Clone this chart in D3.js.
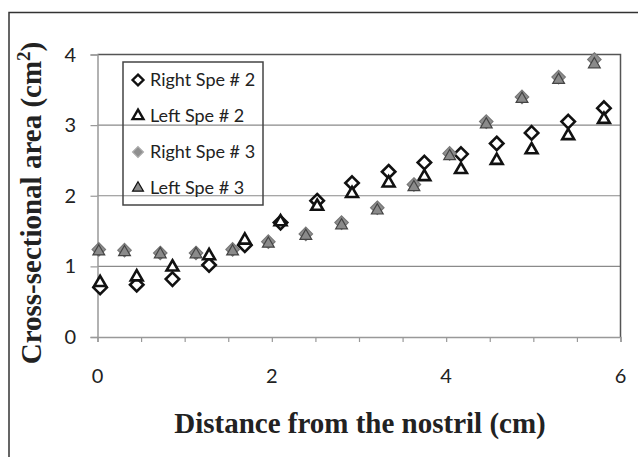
<!DOCTYPE html>
<html>
<head>
<meta charset="utf-8">
<script src="https://cdn.jsdelivr.net/npm/d3@7"></script>
<style>
  body { margin: 0; background: #fff; }
  svg { display: block; }
</style>
</head>
<body>
<script>
// values
const xRight2 = [0.03, 0.45, 0.86, 1.28, 1.69, 2.10, 2.52, 2.92, 3.34, 3.75, 4.17, 4.58, 4.98, 5.40, 5.81];
const yRight2 = [0.70, 0.74, 0.82, 1.02, 1.30, 1.62, 1.93, 2.18, 2.34, 2.47, 2.59, 2.74, 2.89, 3.05, 3.24];
const yLeft2 = [0.77, 0.85, 0.99, 1.15, 1.37, 1.63, 1.85, 2.03, 2.18, 2.27, 2.37, 2.50, 2.65, 2.85, 3.08];

const xRight3 = [0.015, 0.31, 0.72, 1.13, 1.55, 1.96, 2.39, 2.80, 3.21, 3.63, 4.04, 4.46, 4.87, 5.29, 5.70];
const yRight3 = [1.24, 1.23, 1.19, 1.19, 1.24, 1.35, 1.46, 1.62, 1.83, 2.16, 2.60, 3.05, 3.40, 3.68, 3.93];
const yLeft3 = [1.21, 1.20, 1.17, 1.17, 1.21, 1.32, 1.43, 1.58, 1.79, 2.12, 2.56, 3.01, 3.37, 3.64, 3.86];

const xTicks = [0, 2, 4, 6];
const yTicks = [0, 1, 2, 3, 4];
const seriesNames = ['Right Spe # 2', 'Left Spe # 2', 'Right Spe # 3', 'Left Spe # 3'];

const W = 638, H = 457;
const plot = { left: 97.5, right: 620.5, top: 54.5, bottom: 337 };

const svg = d3.select('body').append('svg')
  .attr('width', W)
  .attr('height', H);

// outer frame (only left and top edges are visible)
svg.append('path')
  .attr('d', `M9,${H} V12.5 H${W}`)
  .attr('fill', 'none')
  .attr('stroke', '#333')
  .attr('stroke-width', 1.5);

const x = d3.scaleLinear().domain([0, 6]).range([plot.left, plot.right]);
const y = d3.scaleLinear().domain([0, 4]).range([plot.bottom, plot.top]);

// gridlines
svg.append('g')
  .selectAll('line')
  .data([1, 2, 3])
  .join('line')
  .attr('x1', plot.left)
  .attr('x2', plot.right)
  .attr('y1', (d) => y(d))
  .attr('y2', (d) => y(d))
  .attr('stroke', '#8a8a8a')
  .attr('stroke-width', 1.2);

// plot border top + right
svg.append('path')
  .attr('d', `M${plot.left},${y(4)} H${plot.right} V${plot.bottom}`)
  .attr('fill', 'none')
  .attr('stroke', '#555')
  .attr('stroke-width', 1.5);

// x axis
const xAxis = svg.append('g')
  .attr('transform', `translate(0, ${plot.bottom})`)
  .call(d3.axisBottom(x).tickValues(d3.range(0, 6.01, 0.5)).tickSize(5).tickFormat(''));
xAxis.select('.domain').attr('stroke', '#999').attr('stroke-width', 1.5);
xAxis.selectAll('.tick line').attr('stroke', '#999').attr('stroke-width', 1.2);

svg.append('g')
  .selectAll('text')
  .data(xTicks)
  .join('text')
  .attr('x', (d) => x(d))
  .attr('y', 383)
  .attr('text-anchor', 'middle')
  .style('font-family', 'Lato, sans-serif')
  .style('font-size', '20px')
  .attr('fill', '#222')
  .text((d) => d);

// y axis
const yAxis = svg.append('g')
  .attr('transform', `translate(${plot.left}, 0)`)
  .call(d3.axisLeft(y).tickValues(yTicks).tickSize(7).tickFormat(''));
yAxis.select('.domain').attr('stroke', '#999').attr('stroke-width', 1.5);
yAxis.selectAll('.tick line').attr('stroke', '#999').attr('stroke-width', 1.2);

svg.append('g')
  .selectAll('text')
  .data(yTicks)
  .join('text')
  .attr('x', 76)
  .attr('y', (d) => y(d) + 7)
  .attr('text-anchor', 'end')
  .style('font-family', 'Lato, sans-serif')
  .style('font-size', '20px')
  .attr('fill', '#222')
  .text((d) => d);

// axis titles
svg.append('text')
  .attr('x', 360)
  .attr('y', 433)
  .attr('text-anchor', 'middle')
  .style('font-family', '"Liberation Serif", serif')
  .style('font-weight', 'bold')
  .style('font-size', '29px')
  .attr('fill', '#222')
  .text('Distance from the nostril (cm)');

const yTitle = svg.append('text')
  .attr('transform', 'translate(41, 203) rotate(-90)')
  .attr('text-anchor', 'middle')
  .style('font-family', '"Liberation Serif", serif')
  .style('font-weight', 'bold')
  .style('font-size', '29px')
  .attr('fill', '#222');
yTitle.append('tspan').text('Cross-sectional area (cm');
yTitle.append('tspan').attr('dy', -11).style('font-size', '19px').text('2');
yTitle.append('tspan').attr('dy', 11).text(')');

// marker shapes
const diamond = d3.symbol().type(d3.symbolDiamond2).size(115);
const triangle = d3.symbol().type(d3.symbolTriangle2).size(100);

const styles = [
  { shape: diamond, fill: '#fff', stroke: '#111', sw: 2.6 },
  { shape: triangle, fill: '#fff', stroke: '#111', sw: 2.6 },
  { shape: diamond, fill: '#8f8f8f', stroke: '#777', sw: 1.2 },
  { shape: triangle, fill: '#8a8a8a', stroke: '#444', sw: 1.2 },
];

const series = [
  d3.zip(xRight2, yRight2),
  d3.zip(xRight2, yLeft2),
  d3.zip(xRight3, yRight3),
  d3.zip(xRight3, yLeft3),
];

series.forEach((pts, i) => {
  const s = styles[i];
  svg.append('g')
    .selectAll('path')
    .data(pts)
    .join('path')
    .attr('transform', (d) => `translate(${x(d[0])}, ${y(d[1])})`)
    .attr('d', s.shape())
    .attr('fill', s.fill)
    .attr('stroke', s.stroke)
    .attr('stroke-width', s.sw)
    .attr('stroke-linejoin', 'miter');
});

// legend
svg.append('rect')
  .attr('x', 123)
  .attr('y', 62)
  .attr('width', 140)
  .attr('height', 143)
  .attr('fill', 'none')
  .attr('stroke', '#444')
  .attr('stroke-width', 1.5);

const legendY = d3.scalePoint().domain(seriesNames).range([80, 188]);
const lg = svg.append('g')
  .selectAll('g')
  .data(seriesNames)
  .join('g')
  .attr('transform', (d) => `translate(138, ${legendY(d)})`);

lg.append('path')
  .attr('d', (d, i) => styles[i].shape.size(i % 2 ? 85 : 75)())
  .attr('fill', (d, i) => styles[i].fill)
  .attr('stroke', (d, i) => (i === 2 ? '#aaa' : '#111'))
  .attr('stroke-width', (d, i) => (i < 2 ? 2.4 : 1.2));

lg.append('text')
  .attr('x', 12)
  .attr('y', 6)
  .style('font-family', 'Lato, sans-serif')
  .style('font-size', '18px')
  .attr('fill', '#222')
  .text((d) => d);
</script>
</body>
</html>
